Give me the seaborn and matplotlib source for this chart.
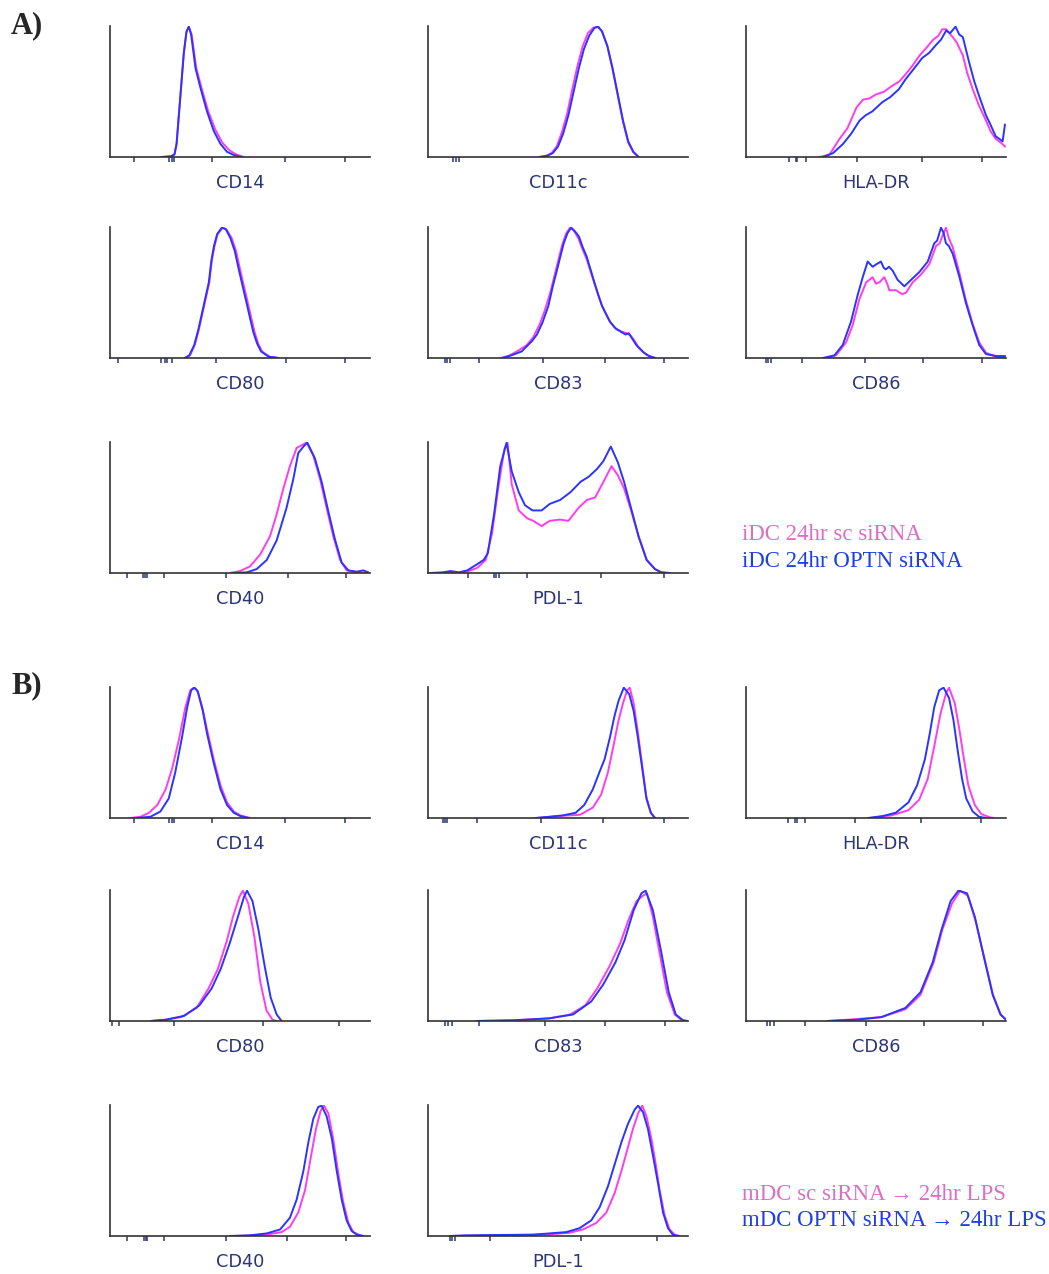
import numpy as np
import pandas as pd
import matplotlib
matplotlib.use("Agg")
import matplotlib.pyplot as plt
import seaborn as sns

# x = position along the (biexponential) axis in % of axis width, y = % of modal count
# ---------------- A) iDC 24hr ----------------
A_CD14_TICKS = [9.2, 22.6, 23.7, 24.6, 39.4, 67.4, 90.4]
A_CD14_SC = [(19.8, 0), (23.5, 0.5), (24.8, 2), (25.6, 10), (26.4, 30), (27.4, 55), (28.4, 80), (29.4, 96),
             (30.3, 100), (31.4, 94), (33.2, 68), (35.2, 53), (37.8, 35), (40.5, 21), (43.2, 11), (46, 5),
             (48.5, 2), (51.5, 0)]
A_CD14_OPTN = [(19.8, 0), (23.5, 0.5), (24.8, 2), (25.6, 10), (26.4, 30), (27.4, 55), (28.4, 80), (29.4, 96),
               (30.3, 100), (31.2, 94), (32.9, 68), (34.8, 53), (37.3, 35), (39.9, 20), (42.5, 10), (45, 4),
               (47.6, 1.5), (50.5, 0)]

A_CD11C_TICKS = [9.6, 10.8, 12.0]
A_CD11C_SC = [(42.5, 0), (45.5, 1), (47.5, 3), (49.5, 8), (51.5, 19), (53.5, 33), (55.5, 52), (57.5, 70),
              (59.5, 85), (61.5, 95), (63.5, 99), (65, 100), (66.8, 97), (69, 85), (71, 67), (73, 47), (75, 27),
              (77, 11), (79, 3.5), (81, 0)]
A_CD11C_OPTN = [(43, 0), (46, 1), (48, 3), (50, 8), (52, 18), (54, 32), (56, 50), (58, 68), (60, 83), (62, 93),
                (64, 99), (65.5, 100), (67, 96), (69, 85), (71, 68), (73, 48), (75, 28), (77, 12), (79, 4), (81, 0)]

A_HLADR_TICKS = [16.5, 19.2, 19.8, 23.0, 42.5, 67.8, 90.7]
A_HLADR_SC = [(28.4, 0), (32.2, 2), (36, 14), (39, 22), (42.5, 38), (45, 44), (47.5, 45), (50, 48), (53, 50),
              (56.5, 55), (59, 58), (61.6, 64), (64, 70), (66.8, 78), (69.5, 84), (72, 90), (74, 93), (75.5, 98),
              (77, 98), (78.2, 95), (79.5, 92), (81, 88), (83.4, 78), (85, 65), (87.2, 52), (89.5, 40),
              (92.3, 28), (94, 20), (96, 14), (98, 11), (99.7, 8)]
A_HLADR_OPTN = [(29.7, 0), (33.5, 3), (37.3, 10), (40.5, 18), (43.7, 28), (46, 32), (48.6, 35), (52.4, 42),
                (55.5, 46), (58.8, 52), (61.5, 60), (63.9, 66), (67.8, 76), (70.5, 80), (73.1, 86), (75, 90),
                (77, 97), (78.5, 95), (80.6, 100), (82, 94), (83.4, 92), (85.9, 72), (87.8, 58), (89.8, 46),
                (92.3, 32), (94, 25), (96, 16), (98.7, 12), (99.6, 25)]

A_CD80_TICKS = [2.9, 19.6, 21.3, 22.1, 24.0, 40.7, 67.6, 90.4]
A_CD80_SC = [(29, 0), (30.8, 2), (32.6, 10), (34.2, 22), (36.2, 40), (38.2, 58), (39.2, 75), (40.2, 86),
             (41.4, 95), (43.4, 100), (45, 98), (46.8, 92), (48.5, 82), (49.8, 70), (51.3, 57), (52.7, 45),
             (54.2, 32), (55.6, 20), (57, 11), (58.5, 5), (61.4, 1), (65, 0)]
A_CD80_OPTN = [(28.7, 0), (30.5, 2), (32.4, 10), (34, 22), (36, 40), (38, 58), (39, 75), (40, 86), (41.2, 95),
               (43, 100), (44.5, 99), (46.3, 92), (48, 82), (49.3, 70), (50.8, 57), (52.2, 45), (53.7, 32),
               (55.1, 20), (56.6, 11), (58.1, 5), (61, 1), (64.7, 0)]

A_CD83_TICKS = [6.6, 7.4, 8.4, 19.6, 44.4, 68.1, 90.9]
A_CD83_SC = [(28, 0), (31.5, 2), (35, 6), (38, 10), (40.5, 16), (43, 26), (45, 37), (47, 50), (48.5, 62),
             (50, 74), (51.5, 86), (53, 95), (54.6, 100), (56, 98), (57.8, 92), (59.3, 84), (61, 76), (62.6, 66),
             (64.2, 56), (65.7, 47), (67.2, 39), (68.7, 33), (70.3, 27), (72.5, 22), (74.8, 20), (76.5, 19),
             (78, 17), (79.5, 13), (81, 8), (82.5, 5), (84.5, 2), (87, 0)]
A_CD83_OPTN = [(28.7, 0), (32, 2), (36, 5), (40, 13), (41.9, 18), (44, 27), (46.3, 40), (48, 55), (49.3, 65),
               (50.8, 77), (52.2, 88), (53.7, 96), (55.1, 100), (56.6, 97), (58.1, 93), (59.5, 85), (61, 78),
               (62.5, 68), (64, 58), (65.4, 49), (66.9, 40), (68.4, 34), (69.9, 28), (72, 23), (74.3, 20),
               (76, 18), (77.2, 19), (78.5, 15), (80.1, 10), (81.6, 7), (83.1, 4), (85, 1.5), (87.5, 0)]

A_CD86_TICKS = [7.7, 8.6, 9.6, 21.5, 45.8, 68.2, 90.8]
A_CD86_SC = [(30.8, 0), (34.6, 2), (38.5, 12), (41, 25), (43.6, 45), (46.2, 58), (48.7, 62), (50, 57),
             (51.3, 58), (53.2, 62), (54.5, 56), (55.1, 52), (57.7, 52), (60, 49), (61.5, 50), (64.1, 58),
             (67.3, 64), (70.5, 72), (73.1, 86), (74.5, 88), (75.4, 93), (76.9, 100), (78, 92), (79.5, 85),
             (82.1, 65), (84.6, 44), (87.2, 26), (89.7, 12), (92.3, 4), (96.2, 1), (99.7, 0.5)]
A_CD86_OPTN = [(29.5, 0), (34, 2), (37.2, 10), (40.4, 28), (42.9, 48), (44.9, 62), (46.8, 74), (48.7, 70),
               (50.2, 72), (51.9, 74), (53, 69), (53.8, 68), (55, 70), (56.4, 67), (58.3, 60), (60.9, 55),
               (63.5, 60), (66.7, 66), (69.9, 74), (72.4, 88), (73.5, 90), (75, 100), (76, 96), (76.9, 88),
               (78, 86), (79.5, 80), (82.1, 62), (84.6, 42), (87.2, 25), (89.7, 10), (92.3, 3), (96.2, 1.5),
               (99.7, 1.5)]

A_CD40_TICKS = [6.7, 12.8, 13.5, 14.1, 20.9, 44.6, 68.3, 90.6]
A_CD40_SC = [(46.2, 0), (50, 1.5), (53.8, 5), (57.7, 14), (61.5, 28), (64.1, 45), (66.7, 65), (69.2, 82),
             (71.8, 96), (73.7, 98), (75.6, 100), (78.2, 90), (80.8, 72), (83.3, 50), (85.9, 28), (88.5, 10),
             (91, 2), (94.9, 0.5), (98.7, 0)]
A_CD40_OPTN = [(47.4, 0), (52.6, 0.5), (56.4, 3), (60.3, 10), (64.1, 25), (67.9, 50), (70.5, 72), (72.4, 92),
               (74.4, 97), (75.9, 100), (78.8, 88), (81.4, 70), (84, 47), (86.5, 26), (89.1, 8), (91.7, 2),
               (94.9, 1), (97.4, 2), (99.4, 0.5)]

A_PDL1_TICKS = [15.4, 25.4, 26.3, 27.2, 38.1, 66.7, 90.8]
A_PDL1_SC = [(0.8, 0), (11.9, 0), (15.1, 1), (19, 4), (22.2, 10), (24.6, 30), (27, 65), (29.4, 95), (30.6, 100),
             (32.2, 68), (34.9, 48), (38.1, 42), (40.5, 40), (43.7, 36), (46.8, 40), (50.8, 41), (54, 40),
             (57.9, 50), (61.1, 56), (64.3, 58), (67.5, 70), (70.6, 82), (73, 75), (75.4, 65), (77.8, 50),
             (81, 28), (84.1, 10), (87.3, 3), (89.7, 0.5), (92.9, 0)]
A_PDL1_OPTN = [(0.8, 0), (5.6, 0.5), (8.7, 1.5), (11.9, 0.5), (15.1, 2), (18.3, 6), (21.4, 10), (23, 15),
               (25.4, 45), (27.8, 82), (30.2, 100), (32.2, 78), (34.9, 62), (37.3, 52), (40.2, 48), (43.7, 48),
               (46.8, 53), (50.8, 56), (54.8, 62), (58.7, 70), (61.9, 74), (65.1, 80), (67.5, 86), (70.3, 97),
               (73, 85), (75.4, 70), (77.8, 52), (81, 28), (84.1, 10), (87.3, 3), (89.7, 0.5), (92.9, 0)]

# ---------------- B) mDC -> 24hr LPS ----------------
B_CD14_TICKS = [9.2, 22.6, 23.7, 24.8, 39.4, 67.4, 90.4]
B_CD14_SC = [(7.9, 0), (11.8, 1), (15, 4), (18.2, 10), (21.4, 22), (23.9, 38), (26.5, 60), (29, 85), (30.9, 98),
             (32.2, 100), (33.5, 98), (35.5, 85), (37.3, 68), (39.9, 45), (42.5, 25), (45, 12), (47.6, 5),
             (50.1, 2), (54, 0)]
B_CD14_OPTN = [(10.4, 0), (15.6, 1), (19.4, 5), (22.6, 15), (25.1, 35), (27.7, 62), (29.7, 85), (31.2, 98),
               (32.5, 100), (33.8, 97), (35.7, 82), (37.3, 65), (39.9, 42), (42.5, 22), (45, 10), (47.6, 4),
               (50.1, 1.5), (53.3, 0)]

B_CD11C_TICKS = [5.8, 6.6, 7.4, 18.9, 43.3, 67.2, 90.6]
B_CD11C_SC = [(42, 0), (50.2, 1.5), (58.5, 2.5), (63.4, 8), (66.6, 18), (69.2, 35), (71.3, 55), (73.3, 75),
              (75, 88), (76.6, 98), (77.6, 100), (79.1, 88), (80.7, 66), (82.4, 40), (84, 16), (85.7, 4), (87.3, 0)]
B_CD11C_OPTN = [(41.2, 0), (47, 1), (51.9, 2), (56.8, 4), (60.1, 10), (63.4, 22), (65.9, 35), (67.9, 45),
                (70, 62), (71.7, 78), (73.3, 90), (75.3, 100), (77.4, 95), (79.1, 82), (80.7, 62), (82.4, 38),
                (84, 15), (85.7, 4), (87.3, 0)]

B_HLADR_TICKS = [16.1, 18.9, 19.7, 22.7, 41.9, 67.4, 90.5]
B_HLADR_SC = [(47.7, 0), (56, 2), (62.5, 6), (66.6, 14), (69.9, 30), (72.4, 55), (74.8, 80), (77, 96),
              (78.1, 100), (80.3, 88), (81.9, 70), (83.6, 48), (85.5, 25), (88, 10), (90.5, 3), (93.8, 0.5),
              (95.4, 0)]
B_HLADR_OPTN = [(46.9, 0), (52.6, 1.5), (57.6, 4), (62.5, 12), (65.8, 25), (68.8, 45), (70.7, 65), (72.4, 85),
                (74.3, 98), (76, 100), (78.1, 92), (79.8, 75), (81.4, 52), (83.1, 30), (84.7, 15), (87.2, 5),
                (89.6, 1), (92.1, 0)]

B_CD80_TICKS = [0.8, 3.5, 24.6, 58.8, 88.0]
B_CD80_SC = [(15.7, 0), (21.5, 1), (27.4, 3), (33.3, 10), (37.9, 25), (41.5, 40), (45, 62), (47.3, 80),
             (49.7, 95), (51.1, 100), (53.2, 90), (55.5, 65), (57.8, 30), (60.2, 8), (62.5, 1), (64.1, 0)]
B_CD80_OPTN = [(15.7, 0), (21.5, 1), (28.6, 4), (34.4, 12), (39.1, 25), (42.6, 40), (46.1, 60), (49.2, 80),
               (51.5, 95), (52.7, 100), (54.8, 92), (57.1, 70), (59.5, 42), (61.8, 18), (64.1, 5), (66, 0)]

B_CD83_TICKS = [6.5, 7.7, 9.3, 19.8, 44.9, 67.9, 91.2]
B_CD83_SC = [(18.6, 0), (32.6, 0.5), (46.5, 2), (54.7, 5), (60.5, 12), (65.1, 25), (69.8, 42), (74, 60),
             (77.2, 78), (80.2, 92), (82.6, 96), (84.2, 98), (86.5, 80), (88.8, 55), (91.9, 22), (94.9, 5),
             (97.7, 0.5), (99.5, 0)]
B_CD83_OPTN = [(18.6, 0), (32.6, 0.5), (46.5, 2), (55.8, 5), (62.8, 15), (67.4, 28), (72.1, 45), (75.6, 62),
               (79.1, 85), (82.1, 98), (83.7, 100), (86.5, 85), (89.5, 55), (92.6, 22), (95.3, 5), (98.1, 0.5),
               (100, 0)]

B_CD86_TICKS = [8.1, 9.3, 10.9, 22.5, 46.3, 68.3, 91.0]
B_CD86_SC = [(31.3, 0), (42.8, 1.5), (52.1, 3), (61.3, 9), (67.1, 20), (72.2, 45), (75.5, 70), (79.2, 90),
             (82.4, 100), (85.4, 96), (88.4, 76), (91.7, 48), (95, 20), (97.9, 5), (100, 1)]
B_CD86_OPTN = [(31.3, 0), (42.8, 1), (52.1, 3), (61.3, 10), (67.1, 22), (71.8, 45), (75.2, 70), (78.7, 92),
               (81.7, 100), (85, 98), (88, 80), (91.4, 50), (94.9, 20), (97.9, 5), (100, 1)]

B_CD40_TICKS = [6.7, 13.1, 13.7, 14.4, 20.9, 44.6, 68.2, 90.8]
B_CD40_SC = [(47.4, 0), (55.1, 0.5), (61.5, 1.5), (66, 3), (69.2, 7), (72.4, 18), (75, 35), (77.2, 60),
             (79.2, 82), (81, 96), (82.3, 100), (84, 94), (85.9, 74), (87.8, 48), (89.7, 26), (91.7, 10),
             (93.6, 3), (96.2, 0.5), (97.4, 0)]
B_CD40_OPTN = [(46.2, 0), (53.8, 0.5), (60.3, 2), (65.4, 5), (69.2, 14), (71.8, 28), (74.4, 50), (76.3, 72),
               (78.2, 90), (80.1, 99), (81.4, 100), (83.3, 92), (85.3, 75), (87.2, 50), (89.1, 28), (91, 12),
               (92.9, 4), (94.9, 1), (97.4, 0)]

B_PDL1_TICKS = [8.6, 9.4, 10.3, 23.7, 58.7, 88.1]
B_PDL1_SC = [(8.3, 0), (27.6, 0.5), (40.4, 1), (48, 1.5), (54.5, 2.5), (59.6, 5), (64.7, 10), (68.6, 18),
             (71.8, 33), (74.4, 50), (76.9, 68), (78.8, 82), (80.8, 94), (82.4, 100), (84, 92), (85.9, 75),
             (87.6, 55), (89.1, 35), (91, 16), (92.9, 5), (94.9, 1), (96.8, 0)]
B_PDL1_OPTN = [(8.3, 0), (14.7, 0.5), (27.6, 0.8), (40.4, 1), (46.8, 2), (53.2, 3), (58.3, 6), (62.8, 12),
               (66, 22), (69.2, 38), (71.8, 55), (74.4, 72), (76.9, 86), (79.5, 97), (80.8, 100), (82.7, 95),
               (84.6, 82), (86.5, 62), (88.5, 40), (90.4, 18), (92.3, 6), (94.2, 1), (96.2, 0)]

MARKERS = [["CD14", "CD11c", "HLA-DR"], ["CD80", "CD83", "CD86"], ["CD40", "PDL-1"]]
LEGEND_A = ["iDC 24hr sc siRNA", "iDC 24hr OPTN siRNA"]
LEGEND_B = ["mDC sc siRNA \u2192 24hr LPS", "mDC OPTN siRNA \u2192 24hr LPS"]

PINK = "#ff3cf0"
BLUE = "#2a34ff"
PINK_TXT = "#dc6ec4"
BLUE_TXT = "#1d3fe6"
NAVY = "#2b3578"

panels_a = [[(A_CD14_SC, A_CD14_OPTN, A_CD14_TICKS), (A_CD11C_SC, A_CD11C_OPTN, A_CD11C_TICKS),
             (A_HLADR_SC, A_HLADR_OPTN, A_HLADR_TICKS)],
            [(A_CD80_SC, A_CD80_OPTN, A_CD80_TICKS), (A_CD83_SC, A_CD83_OPTN, A_CD83_TICKS),
             (A_CD86_SC, A_CD86_OPTN, A_CD86_TICKS)],
            [(A_CD40_SC, A_CD40_OPTN, A_CD40_TICKS), (A_PDL1_SC, A_PDL1_OPTN, A_PDL1_TICKS)]]
panels_b = [[(B_CD14_SC, B_CD14_OPTN, B_CD14_TICKS), (B_CD11C_SC, B_CD11C_OPTN, B_CD11C_TICKS),
             (B_HLADR_SC, B_HLADR_OPTN, B_HLADR_TICKS)],
            [(B_CD80_SC, B_CD80_OPTN, B_CD80_TICKS), (B_CD83_SC, B_CD83_OPTN, B_CD83_TICKS),
             (B_CD86_SC, B_CD86_OPTN, B_CD86_TICKS)],
            [(B_CD40_SC, B_CD40_OPTN, B_CD40_TICKS), (B_PDL1_SC, B_PDL1_OPTN, B_PDL1_TICKS)]]

sns.set_style("ticks")
plt.rcParams['font.family'] = ['DejaVu Sans']

W, H = 1049, 1274
fig = plt.figure(figsize=(W / 100, H / 100), dpi=100)
fig.patch.set_facecolor("white")

col_left = [110, 428, 746]
base_a = [157, 358, 573]
base_b = [818, 1021, 1236]
ax_w, ax_h = 260, 131


def draw_panel(left, base, sc, optn, ticks, name):
    ax = fig.add_axes([left / W, 1 - base / H, ax_w / W, ax_h / H])
    df = pd.concat([pd.DataFrame(sc, columns=["x", "y"]).assign(sample="sc"),
                    pd.DataFrame(optn, columns=["x", "y"]).assign(sample="optn")], ignore_index=True)
    sns.lineplot(data=df, x="x", y="y", hue="sample", palette={"sc": PINK, "optn": BLUE},
                 estimator=None, sort=False, legend=False, linewidth=1.4, ax=ax)
    ax.set_xlim(0, 100)
    ax.set_ylim(0, 100.5)
    ax.set_xticks(ticks)
    ax.set_xticklabels([])
    ax.set_yticks([])
    ax.set_xlabel("")
    ax.set_ylabel("")
    ax.tick_params(axis="x", length=3.3, width=1.1, color=NAVY, direction="out")
    sns.despine(ax=ax)
    for s in ["left", "bottom"]:
        ax.spines[s].set_color("#333333")
        ax.spines[s].set_linewidth(1.2)
    ax.patch.set_alpha(0)
    ax.annotate(name, xy=(0.5, 0), xycoords="axes fraction", xytext=(0, -19), textcoords="offset points",
                ha="center", va="center", fontsize=12.8, color=NAVY)


for panels, bases in [(panels_a, base_a), (panels_b, base_b)]:
    for r, row in enumerate(panels):
        for c, (sc, optn, ticks) in enumerate(row):
            draw_panel(col_left[c], bases[r], sc, optn, ticks, MARKERS[r][c])

serif = ["Liberation Serif", "DejaVu Serif"]
fig.text(11 / W, 1 - 33 / H, "A)", fontsize=22, fontweight="bold", family=serif, va="baseline", ha="left")
fig.text(11 / W, 1 - 693 / H, "B)", fontsize=22, fontweight="bold", family=serif, va="baseline", ha="left")

fig.text(742 / W, 1 - 534 / H, LEGEND_A[0], fontsize=16.5, color=PINK_TXT, family=serif, va="center", ha="left")
fig.text(742 / W, 1 - 561 / H, LEGEND_A[1], fontsize=16.5, color=BLUE_TXT, family=serif, va="center", ha="left")
fig.text(742 / W, 1 - 1194 / H, LEGEND_B[0], fontsize=16.5, color=PINK_TXT, family=serif, va="center", ha="left")
fig.text(742 / W, 1 - 1221 / H, LEGEND_B[1], fontsize=16.5, color=BLUE_TXT, family=serif, va="center", ha="left")

fig.savefig("out.png", dpi=100, facecolor="white")
